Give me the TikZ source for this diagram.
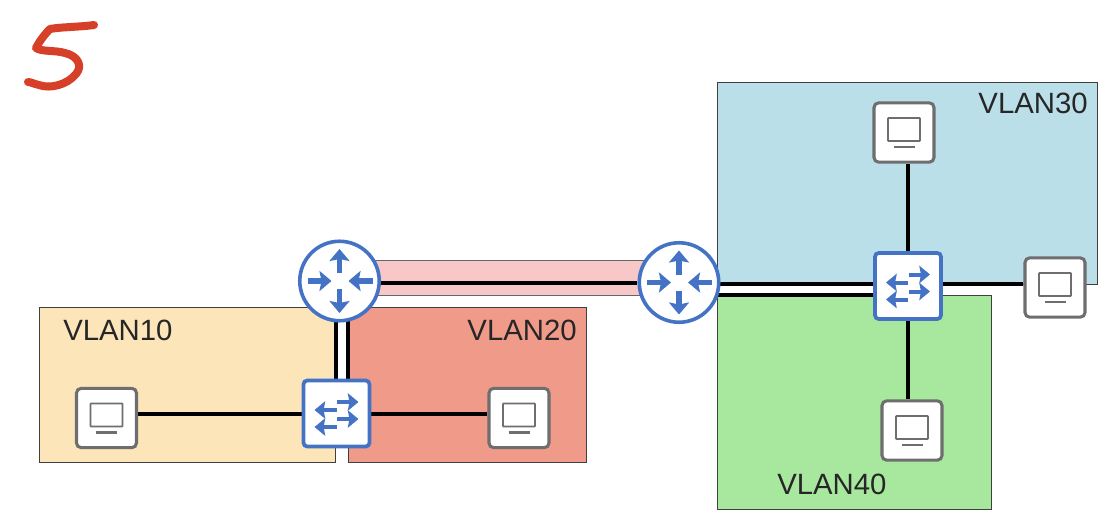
\documentclass[tikz,border=0pt]{standalone}
\usepackage{fontspec}
\setmainfont{Liberation Sans}
\usetikzlibrary{arrows.meta}
\definecolor{iconblue}{HTML}{4472C4}
\definecolor{hostgray}{HTML}{6E6E6E}
\definecolor{vten}{HTML}{FBE5B9}
\definecolor{vtwenty}{HTML}{F09A8A}
\definecolor{vthirty}{HTML}{BBDFE9}
\definecolor{vforty}{HTML}{A8E89E}
\definecolor{wanpink}{HTML}{F8C8C8}
\definecolor{five}{HTML}{D63F28}
\pgfdeclarelayer{zones}
\pgfdeclarelayer{wires}
\pgfsetlayers{zones,wires,main}
\tikzset{
  x=0.75pt,y=-0.75pt,
  zone/.style={draw=black!75,line width=0.6pt,anchor=north west,inner sep=0,outer sep=0},
  zonelabel/.style={font=\fontsize{22}{25}\selectfont,text=black!85,inner sep=0},
  wire/.style={line width=3pt,black},
  twinwire/.style={line width=3.1pt,black,double=white,double distance=#1},
  router/.style={circle,draw=iconblue,line width=2.7pt,fill=white,minimum size=59.6pt,inner sep=0},
  switchbox/.style={rectangle,rounded corners=3pt,draw=iconblue,line width=2.8pt,fill=white,minimum width=49.6pt,minimum height=49.6pt,inner sep=0},
  hostbox/.style={rectangle,rounded corners=3.5pt,draw=hostgray,line width=2.3pt,fill=white,minimum width=45pt,minimum height=44.5pt,inner sep=0},
  iconarrow/.style={draw=iconblue,line width=4pt,-{Stealth[length=9pt,width=15pt,inset=1.5pt,fill=iconblue]}},
  swarrow/.style={draw=iconblue,line width=3pt,-{Stealth[length=8pt,width=13pt,inset=1.2pt,fill=iconblue]}},
  fivestroke/.style={draw=five,line width=6pt,line cap=round,line join=round},
}
\begin{document}
\begin{tikzpicture}
\useasboundingbox (0,0) rectangle (1106,522);
% zones
\begin{pgfonlayer}{zones}
\node[zone,fill=vten,minimum width=222pt,minimum height=116.25pt] (z10) at (39,307) {};
\node[zone,fill=vtwenty,minimum width=178.5pt,minimum height=116.25pt] (z20) at (348,307) {};
\node[zone,fill=vthirty,minimum width=285pt,minimum height=151.5pt] (z30) at (717,82) {};
\node[zone,fill=vforty,minimum width=205.5pt,minimum height=160.5pt] (z40) at (717,295) {};
\node[zone,fill=wanpink,draw=black!60,minimum width=210pt,minimum height=26.25pt] (wan) at (370,260) {};
\end{pgfonlayer}
\node[zonelabel,anchor=west] (l10) at (63,330) {VLAN10};
\node[zonelabel,anchor=east] (l20) at (577,330) {VLAN20};
\node[zonelabel,anchor=east] (l30) at (1088,103) {VLAN30};
\node[zonelabel,anchor=west] (l40) at (777,484) {VLAN40};
% handwritten mark
\draw[fivestroke] (94,25) .. controls (80,27) and (60,27) .. (50,29) .. controls (44,35) and (39,42) .. (36,48) .. controls (42,52) and (55,50) .. (65,53) .. controls (78,56) and (83,66) .. (76,74) .. controls (67,85) and (50,89) .. (39,85) .. controls (34,84) and (31,82) .. (28,82);
% devices
\node[router] (r1) at (339.5,281) {};
\node[router] (r2) at (679,282.5) {};
\node[switchbox] (s1) at (336.5,413.5) {};
\node[switchbox] (s2) at (908,286) {};
\node[hostbox] (h1) at (106.5,418) {};
\node[hostbox] (h2) at (519,418) {};
\node[hostbox] (h3) at (904,132.5) {};
\node[hostbox] (h4) at (1055,287.5) {};
\node[hostbox] (h5) at (912,430.5) {};
% connectors
\begin{pgfonlayer}{wires}
\draw[wire] (s1.west -| h1.east) -- (s1.west);
\draw[wire] (s1.east) -- (s1.east -| h2.west);
\draw[wire] (h3.south -| s2.north) -- (s2.north);
\draw[wire] (s2.south) -- (h5.north -| s2.south);
\draw[wire] ([shift={(0,-2.3)}]s2.east) -- ([shift={(0,-2.3)}]s2.east -| h4.west);
\draw[wire] ([shift={(0,2)}]r1.east) -- ([shift={(0,0.5)}]r2.west);
\draw[twinwire=6.4pt] ([shift={(2.5,0)}]r1.center) -- ([shift={(5.5,0)}]s1.center);
\draw[twinwire=5.7pt] ([shift={(0,7)}]r2.center) -- ([shift={(0,3.5)}]s2.center);
\end{pgfonlayer}
% router glyphs
\foreach \n in {r1,r2}{
  \draw[iconarrow] ([shift={(0,-8)}]\n.center) -- ([shift={(0,-32)}]\n.center);
  \draw[iconarrow] ([shift={(0,8)}]\n.center) -- ([shift={(0,32)}]\n.center);
  \draw[iconarrow] ([shift={(-32,0)}]\n.center) -- ([shift={(-8,0)}]\n.center);
  \draw[iconarrow] ([shift={(33,0)}]\n.center) -- ([shift={(9,0)}]\n.center);
}
% switch glyphs
\foreach \n in {s1,s2}{
  \draw[swarrow] ([shift={(0.5,-11.5)}]\n.center) -- ([shift={(22,-11.5)}]\n.center);
  \draw[swarrow] ([shift={(0,-3.5)}]\n.center) -- ([shift={(-22,-3.5)}]\n.center);
  \draw[swarrow] ([shift={(0.5,5.5)}]\n.center) -- ([shift={(22,5.5)}]\n.center);
  \draw[swarrow] ([shift={(0,13.5)}]\n.center) -- ([shift={(-22,13.5)}]\n.center);
}
% host glyphs
\foreach \n in {h1,h2,h3,h4,h5}{
  \draw[hostgray,line width=1.3pt,rounded corners=0.5pt] ([shift={(-16,-14.5)}]\n.center) rectangle ([shift={(16,8.5)}]\n.center);
  \draw[hostgray,line width=1.6pt] ([shift={(-10.5,14.5)}]\n.center) -- ([shift={(10.5,14.5)}]\n.center);
}
\end{tikzpicture}
\end{document}
